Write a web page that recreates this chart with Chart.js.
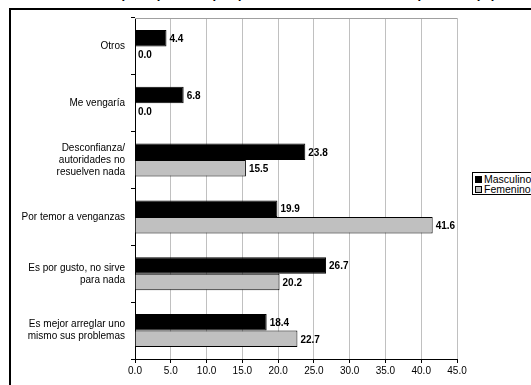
<!DOCTYPE html>
<html>
<head>
<meta charset="utf-8">
<script src="https://cdn.jsdelivr.net/npm/chart.js@4"></script>
<style>
  html, body { margin: 0; padding: 0; background: #fff; overflow: hidden; }
  #wrap { position: relative; width: 531px; height: 385px; overflow: hidden; font-family: "Liberation Sans", Arial, sans-serif; }
  #title { position: absolute; left: 0; width: 560px; top: -14px; text-align: center; font-weight: bold; font-size: 13px; white-space: nowrap; }
  #frame { position: absolute; left: 9px; top: 8px; width: 600px; height: 400px; border: 2px solid #000; }
  #chart { position: absolute; left: 0; top: 0; }
  #legend { position: absolute; left: 472px; top: 172px; width: 80px; height: 20px; border: 1px solid #000; background: #fff; font-size: 10.5px; line-height: 10px; padding: 1px 0 0 2px; }
  #legend div { height: 10px; white-space: nowrap; }
  #legend span.sw { display: inline-block; width: 5px; height: 5px; border: 1px solid #000; margin-right: 2px; vertical-align: 0px; }
</style>
</head>
<body>
<div id="wrap">
  <div id="title">Razones principales de porque no denunciaron el delito, por sexo (%)</div>
  <div id="frame"></div>
  <canvas id="chart" width="531" height="385"></canvas>
  <div id="legend"></div>
</div>
<script>
const categories = [
  'Otros',
  'Me vengaría',
  ['Desconfianza/', 'autoridades no', 'resuelven nada'],
  'Por temor a venganzas',
  ['Es por gusto, no sirve', 'para nada'],
  ['Es mejor arreglar uno', 'mismo sus problemas']
];
const masculino = [4.4, 6.8, 23.8, 19.9, 26.7, 18.4];
const femenino = [0.0, 0.0, 15.5, 41.6, 20.2, 22.7];
const seriesNames = ['Masculino', 'Femenino'];
const seriesColors = ['#000000', '#c0c0c0'];
const fontFamily = '"Liberation Sans", Arial, sans-serif';

// legend
const legend = document.getElementById('legend');
seriesNames.forEach(function (name, i) {
  const row = document.createElement('div');
  row.innerHTML = '<span class="sw" style="background:' + seriesColors[i] + '"></span>' + name;
  legend.appendChild(row);
});

const plotBorder = {
  id: 'plotBorder',
  beforeDatasetsDraw(chart) {
    const a = chart.chartArea;
    const ctx = chart.ctx;
    ctx.save();
    ctx.strokeStyle = '#a0a0a0';
    ctx.lineWidth = 1;
    ctx.beginPath();
    ctx.moveTo(a.left, a.top + 0.5);
    ctx.lineTo(a.right, a.top + 0.5);
    ctx.stroke();
    ctx.restore();
  }
};

const valueLabels = {
  id: 'valueLabels',
  afterDatasetsDraw(chart) {
    const ctx = chart.ctx;
    ctx.save();
    ctx.font = 'bold 10px ' + fontFamily;
    ctx.fillStyle = '#000';
    ctx.textBaseline = 'middle';
    ctx.textAlign = 'left';
    chart.data.datasets.forEach(function (ds, i) {
      chart.getDatasetMeta(i).data.forEach(function (bar, j) {
        ctx.fillText(ds.data[j].toFixed(1), bar.x + 3, bar.y + 1);
      });
    });
    ctx.restore();
  }
};

new Chart(document.getElementById('chart'), {
  type: 'bar',
  data: {
    labels: categories,
    datasets: [
      { label: seriesNames[0], data: masculino, backgroundColor: seriesColors[0], borderColor: '#000', borderWidth: 1 },
      { label: seriesNames[1], data: femenino, backgroundColor: seriesColors[1], borderColor: '#000', borderWidth: 1 }
    ]
  },
  options: {
    indexAxis: 'y',
    responsive: false,
    animation: false,
    datasets: { bar: { categoryPercentage: 0.58, barPercentage: 1.0 } },
    layout: { padding: { left: 0, top: 17, right: 74, bottom: 0 } },
    plugins: { legend: { display: false }, tooltip: { enabled: false } },
    scales: {
      x: {
        min: 0,
        max: 45,
        ticks: {
          stepSize: 5,
          color: '#000',
          font: { family: fontFamily, size: 10 },
          padding: 2,
          callback: function (v) { return Number(v).toFixed(1); }
        },
        grid: { color: '#c0c0c0', tickColor: '#000', tickLength: 4 },
        border: { color: '#000', width: 1 },
        afterFit: function (s) { s.height = 26; }
      },
      y: {
        ticks: {
          color: '#000',
          font: { family: fontFamily, size: 10, lineHeight: 1.2 },
          padding: 6,
          autoSkip: false
        },
        grid: { display: true, drawOnChartArea: false, offset: true, tickLength: 4, color: '#000' },
        border: { color: '#000', width: 1 },
        afterFit: function (s) { s.width = 135; }
      }
    }
  },
  plugins: [plotBorder, valueLabels]
});
</script>
</body>
</html>
